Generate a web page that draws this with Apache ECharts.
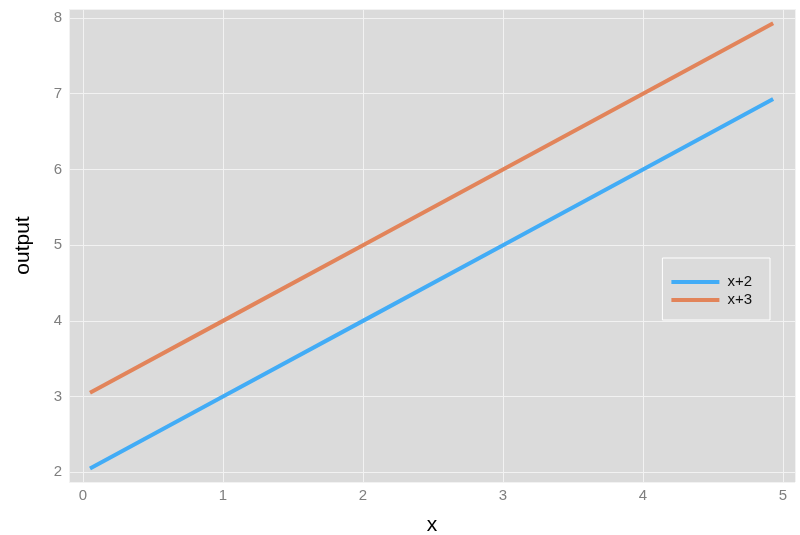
<!DOCTYPE html>
<html lang="en">
<head>
    <meta charset="UTF-8">
    <title>output</title>
    <script type="text/javascript" src="https://cdn.jsdelivr.net/npm/echarts@6/dist/echarts.min.js"></script>
    <style>
        body { margin: 0; background: #fff; }
    </style>
</head>
<body>
<div id="line" style="width: 800px;height:535px;"></div>
<script>

    // values
    var xs = [0.05, 1, 2, 3, 4, 4.93];
    var plus2 = [2.05, 3, 4, 5, 6, 6.93];
    var plus3 = [3.05, 4, 5, 6, 7, 7.93];
    var seriesNames = ['x+2', 'x+3'];

    function pairs(ys) {
        return xs.map(function (x, i) { return [x, ys[i]]; });
    }

    var font = 'Liberation Sans, Arial, sans-serif';
    option = {
        animation: false,
        textStyle: { fontFamily: font },
        grid: {
            left: 69, top: 9, right: 5, bottom: 53,
            outerBoundsMode: 'none',
            containLabel: false,
            show: true,
            backgroundColor: '#dbdbdb',
            borderWidth: 0
        },
        legend: {
            orient: 'vertical',
            right: 30,
            top: 258,
            padding: [16, 18, 12, 9],
            icon: 'rect',
            itemWidth: 48,
            itemHeight: 4,
            itemGap: 2,
            borderColor: '#ffffff',
            borderWidth: 1,
            textStyle: { fontSize: 15, lineHeight: 16, color: '#111', fontFamily: font, padding: [0, 0, 0, 3] },
            data: seriesNames
        },
        xAxis: {
            type: 'value',
            min: -0.1,
            max: 5.086,
            splitNumber: 5,
            name: 'x',
            nameLocation: 'middle',
            nameGap: 33,
            nameTextStyle: { fontSize: 21, color: '#000', fontFamily: font },
            axisLine: { show: false },
            axisTick: { show: false },
            axisLabel: { color: '#7f7f7f', fontSize: 15, margin: 6, showMinLabel: false, showMaxLabel: false },
            splitLine: { show: true, lineStyle: { color: '#f2f2f2', width: 1 } }
        },
        yAxis: {
            type: 'value',
            min: 1.872,
            max: 8.119,
            splitNumber: 6,
            name: 'output',
            nameLocation: 'middle',
            nameGap: 35,
            nameTextStyle: { fontSize: 21, color: '#000', fontFamily: font },
            axisLine: { show: false },
            axisTick: { show: false },
            axisLabel: { color: '#7f7f7f', fontSize: 15, margin: 7, showMinLabel: false, showMaxLabel: false },
            splitLine: { show: true, lineStyle: { color: '#f2f2f2', width: 1 } }
        },
        series: [{
            name: seriesNames[0],
            type: 'line',
            symbol: 'none',
            lineStyle: { width: 4, color: '#42acf6' },
            itemStyle: { color: '#42acf6' },
            data: pairs(plus2)
        }, {
            name: seriesNames[1],
            type: 'line',
            symbol: 'none',
            lineStyle: { width: 4, color: '#e2845a' },
            itemStyle: { color: '#e2845a' },
            data: pairs(plus3)
        }]
    };
    var myChart = echarts.init(document.getElementById('line'));
    myChart.setOption(option);

</script>
</body>
</html>
